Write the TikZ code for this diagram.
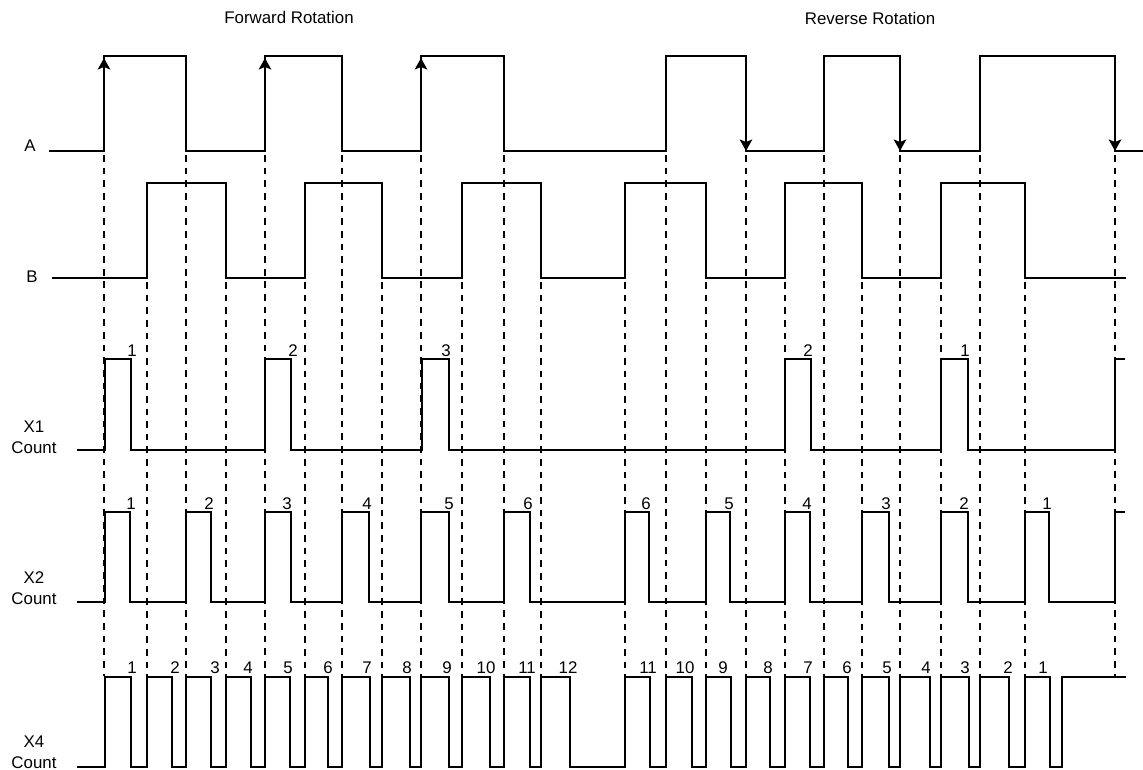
\documentclass[tikz,border=0pt]{standalone}
\usepackage{fontspec}
\setmainfont{Liberation Sans}
\usetikzlibrary{arrows.meta}

\begin{document}
\begin{tikzpicture}[
    x=0.02cm, y=-0.02cm,
    font=\fontsize{9.6pt}{11.9pt}\selectfont,
    wave/.style={line width=0.9pt,line join=miter},
    guide/.style={line width=0.9pt,dash pattern=on 3.8pt off 3.4pt},
    edgearrow/.style={line width=0.9pt,-{Stealth[length=2.3mm,width=2.5mm,inset=0.5mm]}},
    sig/.style={inner sep=0pt,align=center},
    num/.style={anchor=base,inner sep=0pt}
]
\useasboundingbox (0,0) rectangle (1143,770);
% headings and channel names
\node[num] (fwd) at (289,24) {Forward Rotation};
\node[num] (rev) at (870,25) {Reverse Rotation};
\node[sig] (labA) at (30,146) {A};
\node[sig] (labB) at (32,277) {B};
\node[sig] (labX1) at (34,437) {X1\\Count};
\node[sig] (labX2) at (34,588) {X2\\Count};
\node[sig] (labX4) at (34,752) {X4\\Count};
% dashed guides at every edge of A and B
\foreach \x in {104,186,265,342,421,504,666,746,824,900,980,1115}
  \draw[guide] (\x,155) -- (\x,676);
\foreach \x in {147,226,305,382,462,541,625,706,785,862,941,1025}
  \draw[guide] (\x,282) -- (\x,676);
% channel A
\draw[wave] (49,151) -- (104,151) -- (104,56) -- (186,56) -- (186,151) -- (265,151) -- (265,56) -- (342,56) -- (342,151)
  -- (421,151) -- (421,56) -- (504,56) -- (504,151) -- (666,151) -- (666,56) -- (746,56) -- (746,151)
  -- (824,151) -- (824,56) -- (900,56) -- (900,151) -- (980,151) -- (980,56) -- (1115,56) -- (1115,151) -- (1143,151);
\foreach \x in {104,265,421}
  \draw[edgearrow] (\x,151) -- (\x,58);
\foreach \x in {746,900,1115}
  \draw[edgearrow] (\x,56) -- (\x,151);
% channel B
\draw[wave] (52,278) -- (147,278) -- (147,183) -- (226,183) -- (226,278) -- (305,278) -- (305,183) -- (382,183) -- (382,278)
  -- (462,278) -- (462,183) -- (541,183) -- (541,278) -- (625,278) -- (625,183) -- (706,183) -- (706,278)
  -- (785,278) -- (785,183) -- (862,183) -- (862,278) -- (941,278) -- (941,183) -- (1025,183) -- (1025,278) -- (1126,278);
% X1 count
\draw[wave] (77,450) foreach \s/\e in {105/131,265/291,422/449,785/811,941/968}
  { -- (\s,450) -- (\s,359) -- (\e,359) -- (\e,450) } -- (1115,450) -- (1115,359) -- (1125,359);
\foreach \x/\n [count=\i] in {132/1,293/2,446/3,808/2,965/1}
  \node[num] (cX1-\i) at (\x,357) {\n};
% X2 count
\draw[wave] (77,602) foreach \s/\e in {105/130,186/211,265/291,342/369,421/449,504/530,625/649,706/730,785/810,862/889,941/968,1025/1049}
  { -- (\s,602) -- (\s,512) -- (\e,512) -- (\e,602) } -- (1115,602) -- (1115,512) -- (1125,512);
\foreach \x/\n [count=\i] in {131/1,209/2,287/3,367/4,449/5,528/6,646/6,729/5,807/4,886/3,964/2,1047/1}
  \node[num] (cX2-\i) at (\x,509) {\n};
% X4 count
\draw[wave] (77,767) foreach \s/\e in {105/131,147/172,186/211,226/251,265/290,305/328,342/370,382/410,421/449,462/490,504/530,541/570,
    625/650,666/692,706/731,746/770,785/810,824/848,862/889,900/930,941/969,980/1009,1025/1050}
  { -- (\s,767) -- (\s,677) -- (\e,677) -- (\e,767) } -- (1062,767) -- (1062,677) -- (1126,677);
\foreach \x/\n [count=\i] in {132/1,175/2,215/3,248/4,288/5,328/6,367/7,407/8,447/9,486/10,527/11,568/12,
    648/11,685/10,723/9,768/8,808/7,847/6,887/5,926/4,965/3,1008/2,1043/1}
  \node[num] (cX4-\i) at (\x,673) {\n};
\end{tikzpicture}
\end{document}
